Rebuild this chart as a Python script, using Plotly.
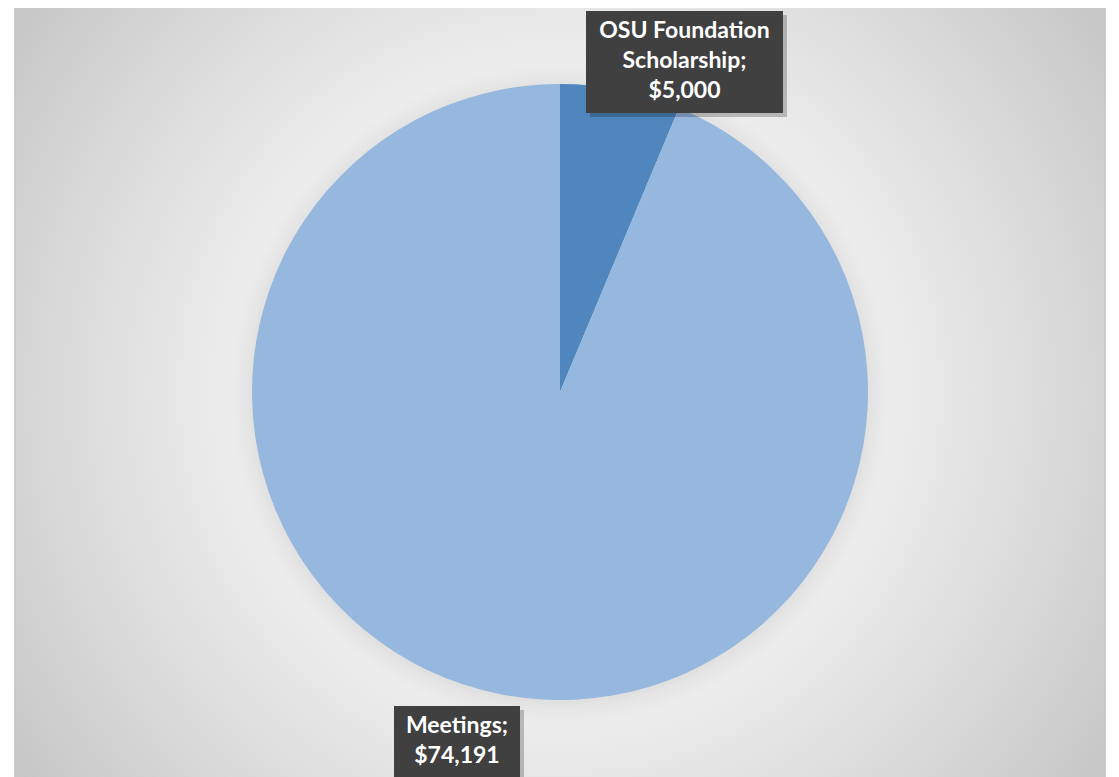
import base64
import plotly.graph_objects as go

categories = ["OSU Foundation Scholarship", "Meetings"]
values = [5000, 74191]
label_texts = ["OSU Foundation<br>Scholarship;<br>$5,000", "Meetings;<br>$74,191"]
colors = ["#4f86bd", "#96b7de"]

# page offset of the plot div (default body margin)
OFF = 8
W, H = 1119 - OFF, 777 - OFF

def px_x(x):
    return (x - OFF) / W

def px_y(y):
    return 1 - (y - OFF) / H

svg = """<svg xmlns='http://www.w3.org/2000/svg' width='1090' height='790' viewBox='0 0 1090 790'>
<defs><radialGradient id='g' gradientUnits='userSpaceOnUse' cx='545' cy='386' r='690'>
<stop offset='0' stop-color='#ffffff'/>
<stop offset='0.42' stop-color='#f1f1f1'/>
<stop offset='0.75' stop-color='#d8d8d8'/>
<stop offset='1' stop-color='#c3c3c3'/>
</radialGradient>
<radialGradient id='s' gradientUnits='userSpaceOnUse' cx='545' cy='388' r='330'>
<stop offset='0.90' stop-color='#000000' stop-opacity='0.10'/>
<stop offset='0.95' stop-color='#000000' stop-opacity='0.04'/>
<stop offset='1' stop-color='#000000' stop-opacity='0'/>
</radialGradient></defs>
<rect x='0' y='0' width='1090' height='790' fill='url(#g)'/>
<circle cx='545' cy='388' r='330' fill='url(#s)'/>
</svg>"""
src = "data:image/svg+xml;base64," + base64.b64encode(svg.encode()).decode()

fig = go.Figure()
fig.add_trace(go.Pie(
    labels=categories,
    values=values,
    sort=False,
    direction="clockwise",
    rotation=0,
    marker=dict(colors=colors, line=dict(width=0)),
    textinfo="none",
    hoverinfo="label+value",
    showlegend=False,
    domain=dict(x=[px_x(251), px_x(869)], y=[px_y(700), px_y(84)]),
))

shapes = [dict(type="rect", xref="paper", yref="paper",
               x0=px_x(15), x1=px_x(1105), y0=px_y(800), y1=px_y(6),
               line=dict(color="#c4c4c4", width=1.5), fillcolor="rgba(0,0,0,0)", layer="above")]

annotations = []
label_boxes = [
    dict(x=684.5, y=11, w=189, h=94),
    dict(x=457, y=706, w=118, h=66),
]
for txt, b in zip(label_texts, label_boxes):
    annotations.append(dict(
        x=px_x(b["x"] + 4), y=px_y(b["y"] + 4), xref="paper", yref="paper",
        xanchor="center", yanchor="top", showarrow=False,
        text=" ", font=dict(family="Lato", size=23, color="rgba(0,0,0,0)"),
        bgcolor="rgba(0,0,0,0.22)", borderpad=4, borderwidth=0,
        width=b["w"], height=b["h"]))
    annotations.append(dict(
        x=px_x(b["x"]), y=px_y(b["y"]), xref="paper", yref="paper",
        xanchor="center", yanchor="top", showarrow=False,
        text="<b>" + txt.replace("<br>", "</b><br><b>") + "</b>",
        font=dict(family="Lato", size=23, color="#ffffff"),
        bgcolor="#404040", borderpad=4, borderwidth=0,
        width=b["w"], height=b["h"], align="center", valign="top"))

fig.update_layout(
    width=W, height=H,
    margin=dict(l=0, r=0, t=0, b=0),
    paper_bgcolor="#ffffff",
    plot_bgcolor="rgba(0,0,0,0)",
    images=[dict(source=src, xref="paper", yref="paper",
                 x=px_x(15), y=px_y(6), sizex=1090 / W, sizey=790 / H,
                 sizing="stretch", xanchor="left", yanchor="top", layer="below")],
    shapes=shapes,
    annotations=annotations,
)

fig.write_html("out.html")
